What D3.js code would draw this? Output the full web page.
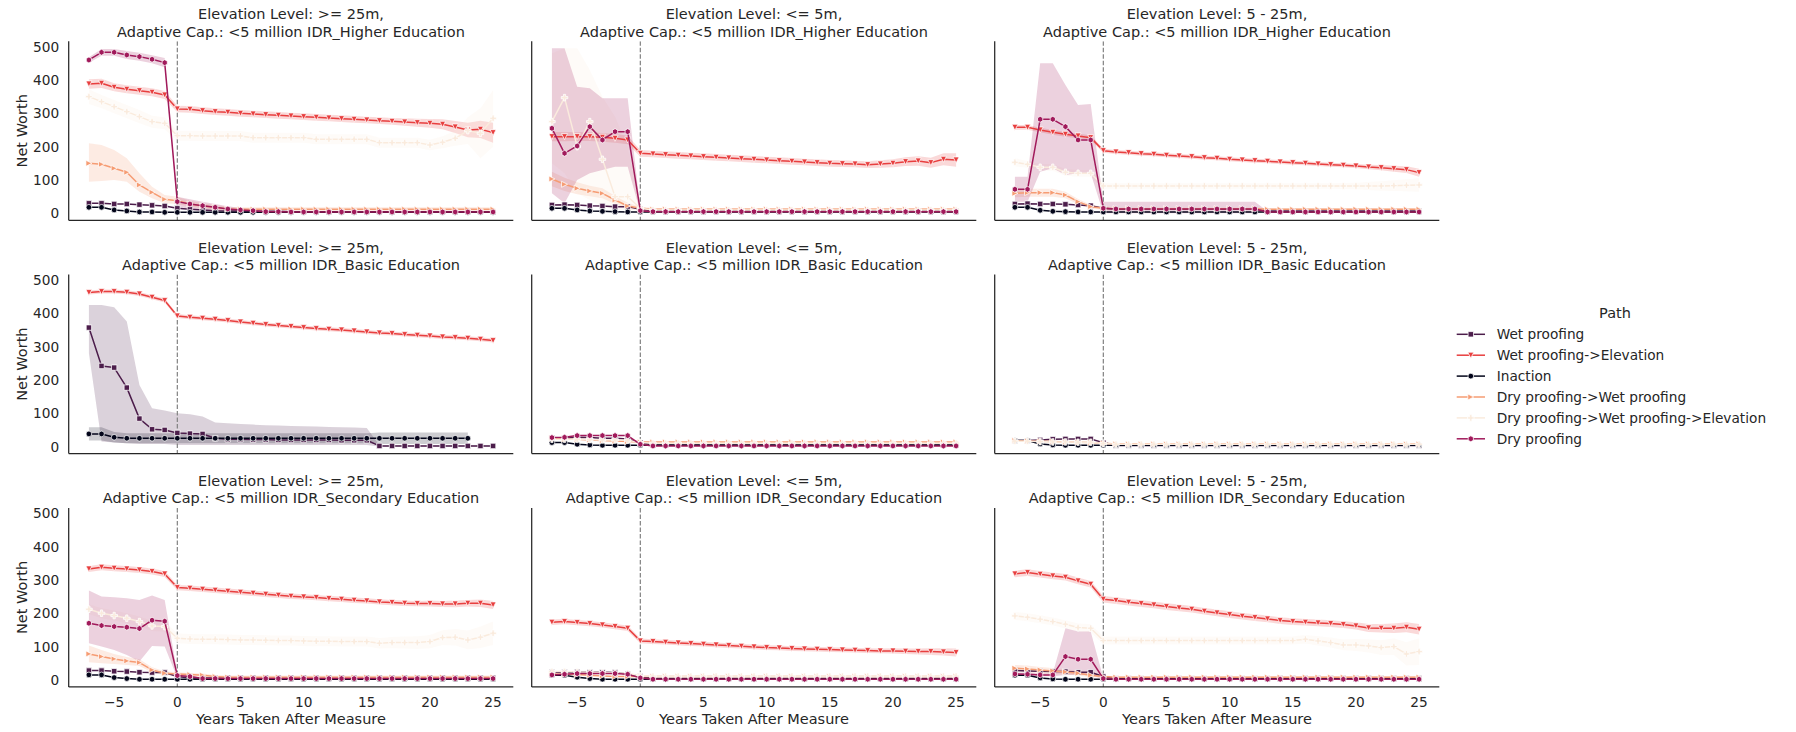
<!DOCTYPE html>
<html>
<head>
<meta charset="utf-8">
<script src="https://cdn.jsdelivr.net/npm/d3@7"></script>
<style>
  body { margin: 0; background: #fff; }
  svg { display: block; }
  text { font-family: "DejaVu Sans", sans-serif; fill: #262626; }
</style>
</head>
<body>
<svg id="chart" width="1796" height="732"></svg>
<script>
// ---- categories and ticks ----
const years = [-7,-6,-5,-4,-3,-2,-1,0,1,2,3,4,5,6,7,8,9,10,11,12,13,14,15,16,17,18,19,20,21,22,23,24,25];
const pathNames = ["Wet proofing", "Wet proofing->Elevation", "Inaction",
  "Dry proofing->Wet proofing", "Dry proofing->Wet proofing->Elevation", "Dry proofing"];
const pathKeys = ["wet", "wetElev", "none", "dryWet", "dryWetElev", "dry"];
const pathColors = ["#4c1d4b", "#e83f3f", "#03051a", "#f69c73", "#faebdd", "#a11a5b"];
const pathMarkers = ["square", "triDown", "circle", "triRight", "plus", "hexagon"];
const elevLevels = [">= 25m", "<= 5m", "5 - 25m"];
const eduLevels = ["Higher Education", "Basic Education", "Secondary Education"];
const yTicks = [0, 100, 200, 300, 400, 500];
const xTicks = [-5, 0, 5, 10, 15, 20, 25];

// ---- Higher Education, >= 25m ----
const hiGe25_wet = [30,30,28,28,26,24,22, 15,12,10,8,7, 7,6,6,6,5, 5,5,5,5,5, 5,5,5,5,5, 5,5,5,5,5, 5];
const hiGe25_wetElev = [388,390,378,372,368,363,355, 313,312,308,305,303, 300,298,296,294,292, 290,288,286,284,282, 280,278,276,274,272, 270,267,259,250,252, 242];
const hiGe25_wetElev_ci = [14,14,12,12,12,12,12, 10,10,10,10,10, 10,10,10,10,10, 10,10,10,10,10, 10,10,10,11,12, 13,15,18,22,26, 30];
const hiGe25_none = [18,18,10,7,4,4,3, 3,3,3,3,3, 3,3,3,3,3, 3,3,3,3,3, 3,3,3,3,3, 3,3,3,3,3, 3];
const hiGe25_dryWet = [150,147,135,123,85,63,42, 38,28,22,18,13, 12,12,12,12,12, 12,12,12,12,12, 12,12,12,12,12, 12,12,12,12,12, 12];
const hiGe25_dryWet_lo = [95,97,100,95,65,45,30, 28,20,15,12,7, 6,6,6,6,6, 6,6,6,6,6, 6,6,6,6,6, 6,6,6,6,6, 6];
const hiGe25_dryWet_hi = [210,205,190,165,120,80,55, 50,38,30,25,20, 18,18,18,18,18, 18,18,18,18,18, 18,18,18,18,18, 18,18,18,18,18, 18];
const hiGe25_dryWetElev = [350,335,320,305,290,275,270, 233,233,232,232,232, 232,227,227,227,227, 227,222,222,222,222, 222,212,212,212,212, 205,213,225,248,240, 285];
const hiGe25_dryWetElev_ci = [22,20,20,20,20,18,18, 15,15,15,15,15, 15,15,15,15,15, 15,15,15,15,15, 15,15,15,15,15, 16,18,22,40,75, 85];
const hiGe25_dry = [460,483,483,475,470,462,452, 35,28,23,18,13, 10,8,5,5,4, 4,4,4,4,4, 4,4,4,4,4, 4,4,4,4,4, 4];
const hiGe25_dry_ci = [8,10,10,12,12,12,14, 15,14,12,10,8, 6,4,3,3,2, 2,2,2,2,2, 2,2,2,2,2, 2,2,2,2,2, 2];

// ---- Higher Education, <= 5m ----
const hiLe5_wet = [25,26,25,23,22,20,20, 12,8,8,8,8, 8,8,8,8,8, 8,8,8,8,8, 8,8,8,8,8, 8,8,8,8,8, 8];
const hiLe5_wetElev = [230,230,230,230,228,225,220, 180,178,176,174,172, 170,168,166,164,162, 160,158,156,154,152, 150,149,148,146,148, 150,155,157,152,162, 160];
const hiLe5_wetElev_ci = [14,14,13,13,13,13,13, 10,10,10,10,10, 10,10,10,10,10, 10,10,10,10,10, 10,10,10,10,11, 12,13,14,15,18, 20];
const hiLe5_none = [15,15,10,7,6,5,4, 4,4,4,4,4, 4,4,4,4,4, 4,4,4,4,4, 4,4,4,4,4, 4,4,4,4,4, 4];
const hiLe5_dryWet = [103,87,75,67,60,40,22, 15,12,12,12,12, 12,12,12,12,12, 12,12,12,12,12, 12,12,12,12,12, 12,12,12,12,12, 12];
const hiLe5_dryWet_ci = [22,20,18,16,15,12,10, 5,4,4,4,4, 4,4,4,4,4, 4,4,4,4,4, 4,4,4,4,4, 4,4,4,4,4, 4];
const hiLe5_dryWetElev = [275,347,200,275,162,50,50, 15,10,10,10,10, 10,10,10,10,10, 10,10,10,10,10, 10,10,10,10,10, 10,10,10,10,10, 10];
const hiLe5_dryWetElev_lo = [150,120,60,40,20,10,10, 8,6,6,6,6, 6,6,6,6,6, 6,6,6,6,6, 6,6,6,6,6, 6,6,6,6,6, 6];
const hiLe5_dryWetElev_hi = [480,495,495,430,350,290,200, 22,14,14,14,14, 14,14,14,14,14, 14,14,14,14,14, 14,14,14,14,14, 14,14,14,14,14, 14];
const hiLe5_dry = [255,180,202,260,220,245,245, 8,5,5,5,5, 5,5,5,5,5, 5,5,5,5,5, 5,5,5,5,5, 5,5,5,5,5, 5];
const hiLe5_dry_lo = [60,30,100,120,130,140,140, 3,2,2,2,2, 2,2,2,2,2, 2,2,2,2,2, 2,2,2,2,2, 2,2,2,2,2, 2];
const hiLe5_dry_hi = [495,495,380,375,345,345,345, 14,8,8,8,8, 8,8,8,8,8, 8,8,8,8,8, 8,8,8,8,8, 8,8,8,8,8, 8];

// ---- Higher Education, 5 - 25m ----
const hiMid_wet = [28,29,28,28,27,25,23, 15,12,12,12,12, 12,12,12,12,12, 12,12,12,7,7, 7,7,7,7,7, 7,7,7,7,7, 7];
const hiMid_wetElev = [258,258,250,243,237,232,227, 188,184,182,179,177, 174,172,170,167,165, 162,160,158,156,154, 152,150,148,146,144, 142,139,137,134,131, 122];
const hiMid_wetElev_ci = [7,7,7,7,7,7,7, 6,6,6,6,6, 6,6,6,6,6, 6,6,6,6,6, 6,6,6,6,6, 6,7,8,9,10, 12];
const hiMid_none = [18,18,9,6,5,4,4, 4,4,4,4,4, 4,4,4,4,4, 4,4,4,4,4, 4,4,4,4,4, 4,4,4,4,4, 4];
const hiMid_dryWet = [60,62,62,62,55,35,20, 15,14,14,14,14, 14,14,14,14,14, 14,14,14,12,12, 12,12,12,12,12, 12,12,12,12,12, 12];
const hiMid_dryWet_ci = [12,12,12,12,10,8,6, 4,3,3,3,3, 3,3,3,3,3, 3,3,3,3,3, 3,3,3,3,3, 3,3,3,3,3, 3];
const hiMid_dryWetElev = [153,147,138,138,123,120,120, 82,82,82,82,82, 82,82,82,82,82, 82,82,82,82,82, 82,82,82,82,82, 82,82,82,83,84, 85];
const hiMid_dryWetElev_ci = [12,10,10,10,10,10,10, 8,8,8,8,8, 8,8,8,8,8, 8,8,8,8,8, 8,8,8,8,9, 10,12,14,16,18, 20];
const hiMid_dry = [72,72,282,282,260,220,220, 15,13,13,13,13, 13,13,13,13,13, 13,13,13,4,4, 4,4,4,4,4, 4,4,4,4,4, 4];
const hiMid_dry_lo = [35,35,125,135,115,120,120, 0,0,0,0,0, 0,0,0,0,0, 0,0,0,2,2, 2,2,2,2,2, 2,2,2,2,2, 2];
const hiMid_dry_hi = [110,110,450,450,385,325,328, 35,35,35,35,35, 35,35,35,35,35, 35,35,35,6,6, 6,6,6,6,6, 6,6,6,6,6, 6];

// ---- Basic Education, >= 25m ----
const baGe25_wet = [357,242,237,177,84,52,50, 41,39,38,25,22, 22,21,21,20,20, 20,20,20,19,19, 19,2,2,2,2, 2,2,2,2,2, 2];
const baGe25_wet_lo = [280,15,12,10,8,8,8, 5,5,5,5,5, 5,5,5,5,5, 5,5,5,5,5, 5,0,0,0,0, 0,0,0,0,0, 0];
const baGe25_wet_hi = [425,425,418,375,185,115,108, 100,97,90,72,70, 68,66,64,63,62, 61,60,59,58,57, 56,4,4,4,4, 4,4,4,4,4, 4];
const baGe25_wetElev = [462,465,465,463,458,448,438, 392,388,385,382,378, 374,370,366,363,360, 357,354,352,350,347, 344,341,339,336,334, 332,329,327,325,322, 318];
const baGe25_wetElev_ci = [6,6,6,6,6,6,6, 6,6,6,6,6, 6,6,6,6,6, 6,6,6,6,6, 6,6,6,6,6, 6,6,6,6,6, 6];
const baGe25_none = [38,38,28,25,25,25,25, 25,25,25,25,25, 25,25,25,25,25, 25,25,25,25,25, 25,25,25,25,25, 25,25,25,25,null, null];
const baGe25_none_ci = [20,20,16,15,15,15,15, 15,15,15,15,15, 15,15,15,15,15, 15,15,15,15,15, 15,17,17,17,17, 17,17,17,17,null, null];

// ---- Basic Education, <= 5m ----
const baLe5_wet = [25,25,28,27,25,25,23, 12,5,5,5,5, 5,5,5,5,5, 5,5,5,5,5, 5,5,5,5,5, 5,5,5,5,5, 5];
const baLe5_none = [12,12,7,5,4,4,4, 4,4,4,4,4, 4,4,4,4,4, 4,4,4,4,4, 4,4,4,4,4, 4,4,4,4,4, 4];
const baLe5_dryWet = [25,22,22,20,18,17,15, 14,14,14,14,14, 14,14,14,14,14, 14,14,14,14,14, 14,14,14,14,14, 14,14,14,14,14, 14];
const baLe5_dryWetElev = [22,22,22,21,20,20,19, 12,10,10,10,10, 10,10,10,10,10, 10,10,10,10,10, 10,10,10,10,10, 10,10,10,10,10, 10];
const baLe5_dry = [27,28,33,33,33,33,33, 7,2,2,2,2, 2,2,2,2,2, 2,2,2,2,2, 2,2,2,2,2, 2,2,2,2,2, 2];

// ---- Basic Education, 5 - 25m ----
const baMid_wet = [18,18,20,22,23,23,23, 12,3,3,3,3, 3,3,3,3,3, 3,3,3,3,3, 3,3,3,3,3, 3,3,3,3,3, 3];
const baMid_none = [18,18,8,5,4,4,4, 4,4,4,4,4, 4,4,4,4,4, 4,4,4,4,4, 4,4,4,4,4, 4,4,4,4,4, 4];
const baMid_dryWet = [18,17,16,15,14,13,12, 10,8,8,8,8, 8,8,8,8,8, 8,8,8,8,8, 8,8,8,8,8, 8,8,8,8,8, 8];
const baMid_dryWetElev = [16,16,15,14,14,13,13, 9,7,7,7,7, 7,7,7,7,7, 7,7,7,7,7, 7,7,7,7,7, 7,7,7,7,7, 7];

// ---- Secondary Education, >= 25m ----
const seGe25_wet = [28,28,26,25,23,22,22, 10,6,6,6,6, 6,6,6,6,6, 6,6,6,6,6, 6,6,6,6,6, 6,6,6,6,6, 6];
const seGe25_wetElev = [333,338,335,333,330,325,318, 277,275,272,269,266, 263,260,257,254,251, 249,247,244,242,239, 237,234,232,230,229, 229,228,228,230,230, 225];
const seGe25_wetElev_ci = [9,9,9,9,9,9,9, 8,8,8,8,8, 8,8,8,8,8, 8,8,8,8,8, 8,8,8,8,8, 9,9,10,10,11, 12];
const seGe25_none = [15,15,7,4,2,2,2, 2,2,2,2,2, 2,2,2,2,2, 2,2,2,2,2, 2,2,2,2,2, 2,2,2,2,2, 2];
const seGe25_dryWet = [78,70,63,57,52,30,20, 18,16,14,10,8, 8,8,8,8,8, 8,8,8,8,8, 8,8,8,8,8, 8,8,8,8,8, 8];
const seGe25_dryWet_ci = [25,20,15,12,10,8,6, 5,5,5,5,5, 5,5,5,5,5, 5,5,5,5,5, 5,5,5,5,5, 5,5,5,5,5, 5];
const seGe25_dryWetElev = [212,200,193,185,175,162,160, 125,123,122,122,121, 120,120,119,118,118, 117,116,116,115,115, 115,110,112,112,112, 115,127,128,120,128, 140];
const seGe25_dryWetElev_ci = [15,15,15,15,15,15,15, 15,15,15,15,15, 15,15,15,15,15, 15,15,15,15,15, 15,16,17,18,19, 20,22,25,28,32, 35];
const seGe25_dry = [170,163,160,158,154,179,176, 13,10,4,4,4, 4,4,4,4,4, 4,4,4,4,4, 4,4,4,4,4, 4,4,4,4,4, 4];
const seGe25_dry_lo = [110,100,90,75,55,102,100, 6,5,2,2,2, 2,2,2,2,2, 2,2,2,2,2, 2,2,2,2,2, 2,2,2,2,2, 2];
const seGe25_dry_hi = [268,250,248,245,240,253,240, 20,15,6,6,6, 6,6,6,6,6, 6,6,6,6,6, 6,6,6,6,6, 6,6,6,6,6, 6];

// ---- Secondary Education, <= 5m ----
const seLe5_wet = [22,23,24,23,23,22,18, 10,4,4,4,4, 4,4,4,4,4, 4,4,4,4,4, 4,4,4,4,4, 4,4,4,4,4, 4];
const seLe5_wetElev = [173,175,172,169,165,160,155, 117,115,113,111,109, 107,105,103,101,99, 97,96,94,93,92, 91,90,89,88,87, 87,86,85,85,84, 82];
const seLe5_wetElev_ci = [8,8,8,8,8,8,8, 7,7,7,7,7, 7,7,7,7,7, 7,7,7,7,7, 7,7,7,7,7, 8,8,9,10,11, 12];
const seLe5_none = [14,14,8,4,2,2,2, 2,2,2,2,2, 2,2,2,2,2, 2,2,2,2,2, 2,2,2,2,2, 2,2,2,2,2, 2];
const seLe5_dryWet = [18,17,16,14,12,10,10, 10,10,10,10,10, 10,10,10,10,10, 10,10,10,10,10, 10,10,10,10,10, 10,10,10,10,10, 10];
const seLe5_dryWetElev = [25,25,24,23,22,21,20, 12,11,11,11,11, 11,11,11,11,11, 11,11,11,11,11, 11,11,11,11,11, 11,11,11,11,11, 11];
const seLe5_dry = [15,17,19,19,19,19,17, 6,2,2,2,2, 2,2,2,2,2, 2,2,2,2,2, 2,2,2,2,2, 2,2,2,2,2, 2];

// ---- Secondary Education, 5 - 25m ----
const seMid_wet = [28,27,26,25,25,23,23, 10,4,4,4,4, 4,4,4,4,4, 4,4,4,4,4, 4,4,4,4,4, 4,4,4,4,4, 4];
const seMid_wetElev = [318,322,317,312,308,297,287, 242,238,233,229,225, 220,216,212,206,201, 196,191,187,183,178, 175,173,171,169,166, 162,156,155,155,158, 152];
const seMid_wetElev_ci = [10,10,10,10,10,10,10, 10,10,10,10,10, 10,10,10,10,10, 10,10,10,10,10, 10,10,10,10,10, 11,12,13,14,15, 16];
const seMid_none = [14,14,6,3,2,2,2, 2,2,2,2,2, 2,2,2,2,2, 2,2,2,2,2, 2,2,2,2,2, 2,2,2,2,2, 2];
const seMid_dryWet = [35,33,30,27,24,20,14, 10,8,8,8,8, 8,8,8,8,8, 8,8,8,8,8, 8,8,8,8,8, 8,8,8,8,8, 8];
const seMid_dryWet_ci = [10,10,9,9,8,7,6, 3,3,3,3,3, 3,3,3,3,3, 3,3,3,3,3, 3,3,3,3,3, 3,3,3,3,3, 3];
const seMid_dryWetElev = [192,188,182,175,167,157,155, 118,118,118,118,118, 118,118,118,118,118, 118,118,118,118,118, 118,122,117,112,105, 105,102,97,100,78, 85];
const seMid_dryWetElev_ci = [12,12,12,12,12,12,12, 12,12,12,12,12, 12,12,12,12,12, 12,12,12,12,12, 12,13,14,15,16, 18,20,22,25,35, 40];
const seMid_dry = [18,17,15,15,70,62,62, 4,2,2,2,2, 2,2,2,2,2, 2,2,2,2,2, 2,2,2,2,2, 2,2,2,2,2, 2];
const seMid_dry_lo = [14,13,11,11,15,15,15, 2,1,1,1,1, 1,1,1,1,1, 1,1,1,1,1, 1,1,1,1,1, 1,1,1,1,1, 1];
const seMid_dry_hi = [22,22,20,20,155,145,145, 6,3,3,3,3, 3,3,3,3,3, 3,3,3,3,3, 3,3,3,3,3, 3,3,3,3,3, 3];

// ---- facet table: row = education, col = elevation ----
const facetSeries = [
  [ // Higher
    { wet: hiGe25_wet, wetElev: hiGe25_wetElev, none: hiGe25_none, dryWet: hiGe25_dryWet, dryWetElev: hiGe25_dryWetElev, dry: hiGe25_dry,
      bands: { wetElev: { ci: hiGe25_wetElev_ci }, dryWet: { lo: hiGe25_dryWet_lo, hi: hiGe25_dryWet_hi },
               dryWetElev: { ci: hiGe25_dryWetElev_ci }, dry: { ci: hiGe25_dry_ci } } },
    { wet: hiLe5_wet, wetElev: hiLe5_wetElev, none: hiLe5_none, dryWet: hiLe5_dryWet, dryWetElev: hiLe5_dryWetElev, dry: hiLe5_dry,
      bands: { wetElev: { ci: hiLe5_wetElev_ci }, dryWet: { ci: hiLe5_dryWet_ci },
               dryWetElev: { lo: hiLe5_dryWetElev_lo, hi: hiLe5_dryWetElev_hi }, dry: { lo: hiLe5_dry_lo, hi: hiLe5_dry_hi } } },
    { wet: hiMid_wet, wetElev: hiMid_wetElev, none: hiMid_none, dryWet: hiMid_dryWet, dryWetElev: hiMid_dryWetElev, dry: hiMid_dry,
      bands: { wetElev: { ci: hiMid_wetElev_ci }, dryWet: { ci: hiMid_dryWet_ci },
               dryWetElev: { ci: hiMid_dryWetElev_ci }, dry: { lo: hiMid_dry_lo, hi: hiMid_dry_hi } } }
  ],
  [ // Basic
    { wet: baGe25_wet, wetElev: baGe25_wetElev, none: baGe25_none,
      bands: { wet: { lo: baGe25_wet_lo, hi: baGe25_wet_hi }, wetElev: { ci: baGe25_wetElev_ci }, none: { ci: baGe25_none_ci } } },
    { wet: baLe5_wet, none: baLe5_none, dryWet: baLe5_dryWet, dryWetElev: baLe5_dryWetElev, dry: baLe5_dry, bands: {} },
    { wet: baMid_wet, none: baMid_none, dryWet: baMid_dryWet, dryWetElev: baMid_dryWetElev, bands: {} }
  ],
  [ // Secondary
    { wet: seGe25_wet, wetElev: seGe25_wetElev, none: seGe25_none, dryWet: seGe25_dryWet, dryWetElev: seGe25_dryWetElev, dry: seGe25_dry,
      bands: { wetElev: { ci: seGe25_wetElev_ci }, dryWet: { ci: seGe25_dryWet_ci },
               dryWetElev: { ci: seGe25_dryWetElev_ci }, dry: { lo: seGe25_dry_lo, hi: seGe25_dry_hi } } },
    { wet: seLe5_wet, wetElev: seLe5_wetElev, none: seLe5_none, dryWet: seLe5_dryWet, dryWetElev: seLe5_dryWetElev, dry: seLe5_dry,
      bands: { wetElev: { ci: seLe5_wetElev_ci } } },
    { wet: seMid_wet, wetElev: seMid_wetElev, none: seMid_none, dryWet: seMid_dryWet, dryWetElev: seMid_dryWetElev, dry: seMid_dry,
      bands: { wetElev: { ci: seMid_wetElev_ci }, dryWet: { ci: seMid_dryWet_ci },
               dryWetElev: { ci: seMid_dryWetElev_ci }, dry: { lo: seMid_dry_lo, hi: seMid_dry_hi } } }
  ]
];

// ---- layout ----
const svg = d3.select("#chart");
const panelW = 444.6, panelH = 179;
const colLeft = [68.7, 531.7, 994.7];
const rowTop = [41.3, 274.6, 507.9];
const x = d3.scaleLinear().domain([-8.6, 26.6]).range([0, panelW]);
const y = d3.scaleLinear().domain([-21, 516]).range([panelH, 0]);
const fmt = d => d < 0 ? "\u2212" + Math.abs(d) : String(d);

// marker outlines, sized in px around the point
function markerPath(kind, r) {
  switch (kind) {
    case "square": { const s = r * 0.9; return `M${-s},${-s}H${s}V${s}H${-s}Z`; }
    case "triDown": return `M0,${r}L${-r},${-r}L${r},${-r}Z`;
    case "triRight": return `M${r},0L${-r},${-r}L${-r},${r}Z`;
    case "circle": return d3.arc()({ innerRadius: 0, outerRadius: r * 0.95, startAngle: 0, endAngle: 2 * Math.PI });
    case "plus": {
      const a = r * 1.1, t = a / 3;
      return `M${-t},${-a}H${t}V${-t}H${a}V${t}H${t}V${a}H${-t}V${t}H${-a}V${-t}H${-t}Z`;
    }
    case "hexagon": {
      const pts = d3.range(6).map(i => {
        const ang = Math.PI / 2 + i * Math.PI / 3;
        return [r * Math.cos(ang), -r * Math.sin(ang)];
      });
      return "M" + pts.map(p => p.join(",")).join("L") + "Z";
    }
  }
}
const markerR = 3;

const defs = svg.append("defs");

facetSeries.forEach((rowSeries, r) => {
  rowSeries.forEach((cell, c) => {
    const g = svg.append("g").attr("transform", `translate(${colLeft[c]},${rowTop[r]})`);
    const clipId = `clip-${r}-${c}`;
    defs.append("clipPath").attr("id", clipId)
      .append("rect").attr("x", 0).attr("y", 0).attr("width", panelW).attr("height", panelH);
    const plot = g.append("g").attr("clip-path", `url(#${clipId})`);

    // confidence bands first, behind every line
    pathKeys.forEach((key, i) => {
      const vals = cell[key];
      const band = cell.bands[key];
      if (!vals || !band) return;
      const rows = years.map((yr, j) => {
        if (vals[j] == null) return null;
        const lo = band.lo ? band.lo[j] : vals[j] - band.ci[j];
        const hi = band.hi ? band.hi[j] : vals[j] + band.ci[j];
        return { yr, lo, hi };
      });
      const area = d3.area()
        .defined(d => d != null)
        .x(d => x(d.yr)).y0(d => y(d.lo)).y1(d => y(d.hi));
      plot.append("path").attr("d", area(rows))
        .attr("fill", pathColors[i]).attr("fill-opacity", 0.2).attr("stroke", "none");
    });

    // reference line at the year the measure is taken
    plot.append("line")
      .attr("x1", x(0)).attr("x2", x(0)).attr("y1", 0).attr("y2", panelH)
      .attr("stroke", "#808080").attr("stroke-width", 1.2).attr("stroke-dasharray", "4.5,2");

    // lines with markers
    pathKeys.forEach((key, i) => {
      const vals = cell[key];
      if (!vals) return;
      const pts = years.map((yr, j) => vals[j] == null ? null : { yr, v: vals[j] });
      const line = d3.line().defined(d => d != null).x(d => x(d.yr)).y(d => y(d.v));
      const sg = plot.append("g");
      sg.append("path").attr("d", line(pts))
        .attr("fill", "none").attr("stroke", pathColors[i]).attr("stroke-width", 1.5)
        .attr("stroke-linejoin", "round");
      sg.selectAll("path.mk").data(pts.filter(d => d != null)).join("path")
        .attr("class", "mk")
        .attr("d", markerPath(pathMarkers[i], markerR))
        .attr("transform", d => `translate(${x(d.yr)},${y(d.v)})`)
        .attr("fill", pathColors[i]).attr("stroke", "#fff").attr("stroke-width", 0.75);
    });

    // spines
    g.append("line").attr("x1", 0).attr("x2", 0).attr("y1", 0).attr("y2", panelH)
      .attr("stroke", "#262626").attr("stroke-width", 1.25);
    g.append("line").attr("x1", 0).attr("x2", panelW).attr("y1", panelH).attr("y2", panelH)
      .attr("stroke", "#262626").attr("stroke-width", 1.25);

    // title
    const t = g.append("text").attr("text-anchor", "middle").style("font-size", "14.5px");
    t.append("tspan").attr("x", panelW / 2).attr("y", -22).text(`Elevation Level: ${elevLevels[c]},`);
    t.append("tspan").attr("x", panelW / 2).attr("y", -4.8).text(`Adaptive Cap.: <5 million IDR_${eduLevels[r]}`);

    // y ticks on the first column
    if (c === 0) {
      g.selectAll("text.yt").data(yTicks).join("text").attr("class", "yt")
        .attr("x", -9.5).attr("y", d => y(d) + 5).attr("text-anchor", "end")
        .style("font-size", "13.7px").text(d => fmt(d));
      g.append("text")
        .attr("transform", `translate(${27 - colLeft[0]},${panelH / 2}) rotate(-90)`)
        .attr("text-anchor", "middle").style("font-size", "14.5px").text("Net Worth");
    }
    // x ticks on the bottom row
    if (r === 2) {
      g.selectAll("text.xt").data(xTicks).join("text").attr("class", "xt")
        .attr("x", d => x(d)).attr("y", panelH + 20.5).attr("text-anchor", "middle")
        .style("font-size", "13.7px").text(d => fmt(d));
      g.append("text").attr("x", panelW / 2).attr("y", panelH + 37.5)
        .attr("text-anchor", "middle").style("font-size", "14.5px").text("Years Taken After Measure");
    }
  });
});

// ---- legend ----
const lg = svg.append("g");
lg.append("text").attr("x", 1615).attr("y", 318).attr("text-anchor", "middle")
  .style("font-size", "14.5px").text("Path");
pathNames.forEach((name, i) => {
  const cy = 334.3 + i * 20.9;
  lg.append("line").attr("x1", 1456.7).attr("x2", 1485).attr("y1", cy).attr("y2", cy)
    .attr("stroke", pathColors[i]).attr("stroke-width", 1.5);
  lg.append("path").attr("d", markerPath(pathMarkers[i], markerR))
    .attr("transform", `translate(${1470.8},${cy})`)
    .attr("fill", pathColors[i]).attr("stroke", "#fff").attr("stroke-width", 0.75);
  lg.append("text").attr("x", 1496.7).attr("y", cy + 5)
    .style("font-size", "13.7px").text(name);
});
</script>
</body>
</html>
